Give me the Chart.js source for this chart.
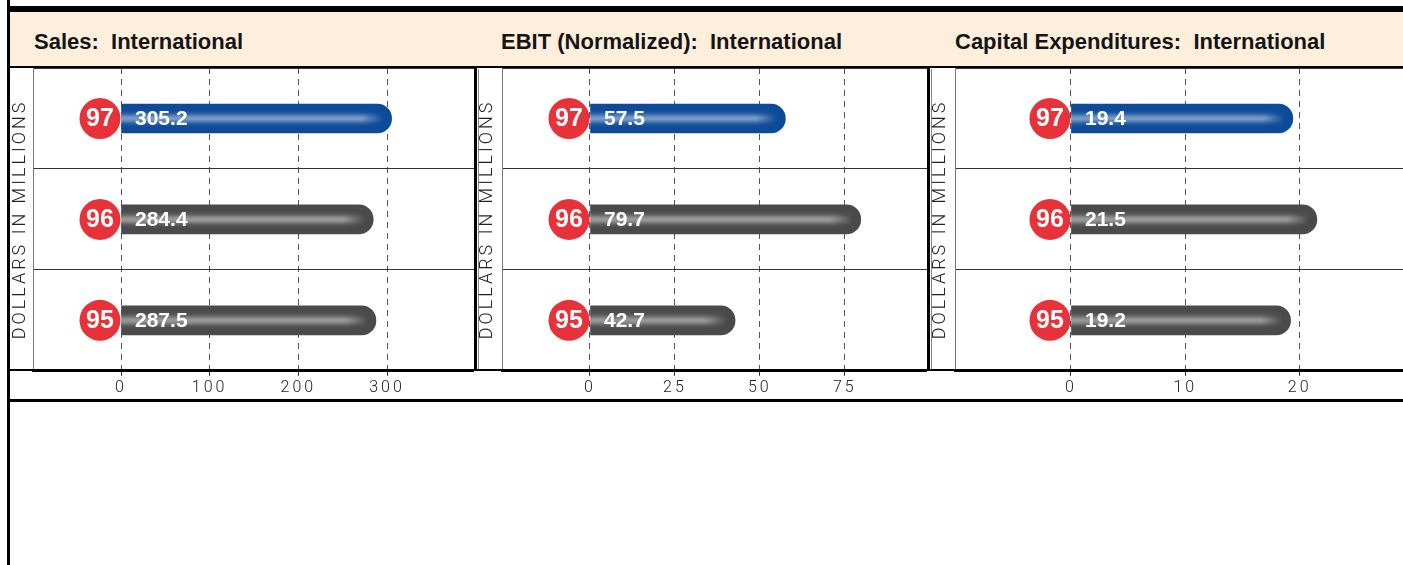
<!DOCTYPE html>
<html>
<head>
<meta charset="utf-8">
<script src="https://cdn.jsdelivr.net/npm/chart.js@4.4.0/dist/chart.umd.min.js"></script>
<style>
  body { margin: 0; background: #fff; width: 1403px; height: 565px; overflow: hidden; position: relative; font-family: 'Liberation Sans', Arial, sans-serif; }
  .abs { position: absolute; }
  .black { background: #000; }
  .title { position: absolute; top: 31px; font-weight: bold; font-size: 22px; line-height: 22px; color: #151515; white-space: pre; }
  .box { position: absolute; top: 69px; height: 300px; border-left: 1px solid #888; }
  canvas { position: absolute; top: 68px; }
</style>
</head>
<body>
<!-- frame -->
<div class="abs black" style="left:7px;top:0;width:3px;height:565px"></div>
<div class="abs black" style="left:7px;top:6px;width:1396px;height:6px"></div>
<div class="abs" style="left:10px;top:12px;width:1393px;height:54px;background:#fdefdc"></div>
<div class="abs black" style="left:7px;top:66px;width:1396px;height:2px"></div>
<div class="title" id="t0" style="left:34px"></div>
<div class="title" id="t1" style="left:501px"></div>
<div class="title" id="t2" style="left:955px"></div>

<div class="box" style="left:478px"></div>
<div class="box" style="left:931px"></div>

<canvas id="sales" width="464" height="333" style="left:10px"></canvas>
<canvas id="ebit" width="450" height="333" style="left:477px"></canvas>
<canvas id="capex" width="473" height="333" style="left:930px"></canvas>

<div class="abs black" style="left:474px;top:68px;width:3px;height:302px"></div>
<div class="abs black" style="left:927px;top:68px;width:3px;height:302px"></div>
<div class="abs black" style="left:7px;top:369px;width:1396px;height:2px"></div>
<div class="abs black" style="left:7px;top:399px;width:1396px;height:3px"></div>

<script>
// data
const years = ['97', '96', '95'];
const salesValues = [305.2, 284.4, 287.5];
const ebitValues = [57.5, 79.7, 42.7];
const capexValues = [19.4, 21.5, 19.2];

const salesTicks = [0, 100, 200, 300];
const ebitTicks = [0, 25, 50, 75];
const capexTicks = [0, 10, 20];

const panelTitles = ['Sales:  International', 'EBIT (Normalized):  International', 'Capital Expenditures:  International'];
const yAxisTitle = 'DOLLARS IN MILLIONS';

const BLUE = '#0d4a98';
const GRAY = '#4a4a4a';
const RED = '#e8323a';

panelTitles.forEach((t, i) => { document.getElementById('t' + i).textContent = t; });

// circles with the year, value text and the shiny stripe on each bar
const barDecor = {
    id: 'barDecor',
    beforeDraw(chart) {
        chart.ctx.letterSpacing = '3px';
    },
    beforeDatasetsDraw(chart) {
        chart.ctx.letterSpacing = '0px';
    },
    afterDatasetsDraw(chart) {
        const ctx = chart.ctx;
        const meta = chart.getDatasetMeta(0);
        const zeroX = chart.scales.x.getPixelForValue(0);
        const values = chart.data.datasets[0].data;

        meta.data.forEach((bar, i) => {
            const { x, y } = bar.getProps(['x', 'y'], true);

            // highlight stripe, fades out before the round end
            const fadeEnd = x - 8;
            const fadeStart = x - 30;
            const grad = ctx.createLinearGradient(zeroX, 0, fadeEnd, 0);
            grad.addColorStop(0, 'rgba(255,255,255,1)');
            grad.addColorStop(Math.max(0, (fadeStart - zeroX) / (fadeEnd - zeroX)), 'rgba(255,255,255,1)');
            grad.addColorStop(1, 'rgba(255,255,255,0)');
            ctx.save();
            ctx.fillStyle = grad;
            for (let dy = -9; dy <= 9; dy++) {
                ctx.globalAlpha = 0.45 * Math.exp(-Math.pow(dy / 4.5, 2));
                ctx.fillRect(zeroX, y + dy - 0.5, fadeEnd - zeroX, 1);
            }
            ctx.restore();

            // red year badge
            const cx = zeroX - 21;
            ctx.save();
            ctx.beginPath();
            ctx.arc(cx, y, 20.5, 0, Math.PI * 2);
            ctx.fillStyle = RED;
            ctx.fill();
            ctx.fillStyle = '#fff';
            ctx.textAlign = 'center';
            ctx.textBaseline = 'middle';
            ctx.font = 'bold 25px "Liberation Sans Narrow", "Liberation Sans", sans-serif';
            ctx.fillText(chart.data.labels[i], cx, y + 1);

            // value
            ctx.textAlign = 'left';
            ctx.font = 'bold 21px "Liberation Sans", Arial, sans-serif';
            ctx.fillText(values[i].toFixed(1), zeroX + 14, y + 1);
            ctx.restore();
        });
    }
};

function makeChart(id, values, ticks, min, max, axisWidth) {
    const ctx = document.getElementById(id).getContext('2d');
    return new Chart(ctx, {
        type: 'bar',
        data: {
            labels: years,
            datasets: [{
                data: values,
                backgroundColor: values.map((v, i) => i === 0 ? BLUE : GRAY),
                borderWidth: 0,
                borderRadius: 15,
                borderSkipped: 'start',
                barThickness: 29
            }]
        },
        options: {
            indexAxis: 'y',
            responsive: false,
            animation: false,
            devicePixelRatio: 1,
            layout: { padding: 0 },
            plugins: {
                legend: { display: false },
                tooltip: { enabled: false }
            },
            scales: {
                x: {
                    type: 'linear',
                    min: min,
                    max: max,
                    afterBuildTicks: scale => {
                        scale.ticks = ticks.map(v => ({ value: v }));
                    },
                    ticks: {
                        autoSkip: false,
                        maxRotation: 0,
                        padding: 3,
                        color: '#222',
                        font: { family: 'Roboto', weight: 300, size: 16 }
                    },
                    grid: {
                        color: '#555',
                        lineWidth: 1,
                        drawTicks: true,
                        tickLength: 5,
                        tickColor: '#333',
                        tickBorderDash: []
                    },
                    border: {
                        display: true,
                        color: '#000',
                        width: 3,
                        dash: [6, 5]
                    }
                },
                y: {
                    type: 'category',
                    offset: true,
                    afterFit: scale => { scale.width = axisWidth; },
                    ticks: { display: false },
                    grid: {
                        offset: true,
                        color: '#333',
                        lineWidth: 1,
                        drawTicks: false
                    },
                    border: { display: true, color: '#777', width: 1 },
                    title: {
                        display: true,
                        text: yAxisTitle,
                        color: '#222',
                        padding: 0,
                        font: { family: 'Roboto', weight: 300, size: 18 }
                    }
                }
            }
        },
        plugins: [barDecor]
    });
}

makeChart('sales', salesValues, salesTicks, -99.25, 398.1, 23);
makeChart('ebit', ebitValues, ebitTicks, -25.9, 99.2, 25);
makeChart('capex', capexValues, capexTicks, -10.14, 29.03, 25);
</script>
</body>
</html>
